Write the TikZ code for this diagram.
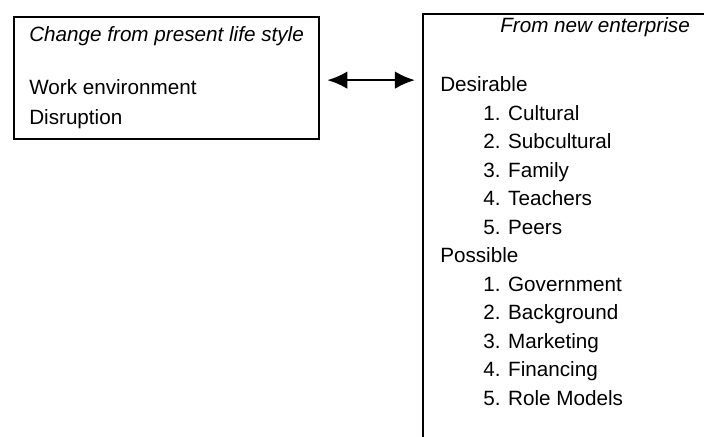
\documentclass[tikz,border=0pt]{standalone}
\usepackage{fontspec}
\setmainfont{Liberation Sans}
\usepackage{tikz}
\usetikzlibrary{arrows.meta}

\begin{document}
\begin{tikzpicture}
            \tikzset{panel/.style = {draw, line width=1.6pt, inner sep=0pt, anchor=north west}}
            \tikzset{entry/.style = {anchor=base west, inner sep=0pt, font=\fontsize{14.7}{17}\selectfont}}
            \tikzset{title/.style = {entry, font=\fontsize{14.7}{17}\selectfont\itshape}}
            \tikzset{link/.style = {{Latex[length=0.5cm,width=0.44cm]}-{Latex[length=0.5cm,width=0.44cm]}, line width=1.8pt}}
            \useasboundingbox (0,0) rectangle (17.6,-10.925);
            \clip (0,0) rectangle (17.6,-10.925);
            % boxes
            \node[panel, minimum width=7.625cm, minimum height=3.05cm] (change) at (0.325,-0.4) {};
            \node[panel, minimum width=8cm, minimum height=12cm] (enterprise) at (10.55,-0.325) {};
            % left box
            \node[title] (hdrleft) at (0.725,-1.05) {Change from present life style};
            \node[entry] (work) at (0.725,-2.375) {Work environment};
            \node[entry] (disrupt) at (0.725,-3.125) {Disruption};
            % right box
            \node[title] (hdrright) at (12.5,-0.825) {From new enterprise};
            \node[entry] (desirable) at (11.0,-2.3) {Desirable};
            \node[entry] (cultural) at (12.075,-3.0125) {1. Cultural};
            \node[entry] (subcultural) at (12.075,-3.725) {2. Subcultural};
            \node[entry] (family) at (12.075,-4.4375) {3. Family};
            \node[entry] (teachers) at (12.075,-5.15) {4. Teachers};
            \node[entry] (peers) at (12.075,-5.8625) {5. Peers};
            \node[entry] (possible) at (11.0,-6.575) {Possible};
            \node[entry] (government) at (12.075,-7.2875) {1. Government};
            \node[entry] (background) at (12.075,-8.0) {2. Background};
            \node[entry] (marketing) at (12.075,-8.7125) {3. Marketing};
            \node[entry] (financing) at (12.075,-9.425) {4. Financing};
            \node[entry] (rolemodels) at (12.075,-10.1375) {5. Role Models};
            % edge
            \coordinate (mid) at ([yshift=-0.05cm]change.east);
            \draw[link] ([xshift=5pt]mid) to ([xshift=-5pt]enterprise.west |- mid);
        \end{tikzpicture}
\end{document}
